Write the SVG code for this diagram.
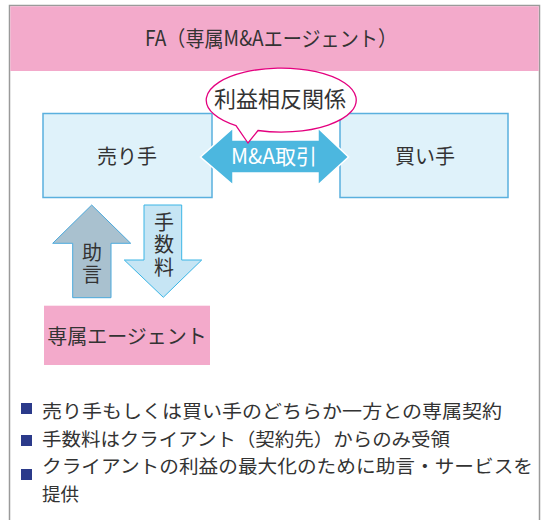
<svg xmlns="http://www.w3.org/2000/svg" width="544" height="520" viewBox="0 0 544 520">
<style>
text{font-family:"Noto Sans CJK JP","Noto Sans",sans-serif;fill:#333}
.box{fill:#dff2fa;stroke:#5ab0de;stroke-width:1.5}
.pink{fill:#f3aacb}
.t20{font-size:20px}
.vt{font-size:20px;writing-mode:vertical-rl;letter-spacing:2.5px}
.bul{fill:#2b3a8a}
.li{font-size:18.5px}
</style>
<rect x="0" y="0" width="544" height="520" fill="#fff"/>
<g id="frame">
<rect x="9.5" y="5.5" width="530" height="530" fill="#fff" stroke="#9a9a9a" stroke-width="1.5"/>
<rect x="10.3" y="6.3" width="528.4" height="64.7" class="pink"/>
<text x="145" y="46" textLength="252" lengthAdjust="spacingAndGlyphs" style="font-size:21px">FA（専属M&amp;Aエージェント）</text>
</g>
<g id="seller">
<rect x="43" y="113.5" width="169" height="84" class="box"/>
<text x="127" y="164" text-anchor="middle" class="t20">売り手</text>
</g>
<g id="buyer">
<rect x="340" y="113.5" width="168" height="84" class="box"/>
<text x="425" y="164" text-anchor="middle" class="t20">買い手</text>
</g>
<g id="connectors">
<polygon id="deal" points="200.5,157 233,128 233,140 318,140 318,128 348.5,157 318,185 318,173 233,173 233,185" fill="#4cb7df" stroke="#fff" stroke-width="1.5"/>
<text x="274" y="164" text-anchor="middle" style="font-size:21px;fill:#fff">M&amp;A取引</text>
<g id="advice">
<polygon points="91.7,205 130.7,243.3 111,243.3 111,297.7 72.7,297.7 72.7,243.3 52.7,243.3" fill="#a9c1cf" stroke="#4ba9dc" stroke-width="1"/>
<text x="92" y="242" class="vt">助言</text>
</g>
<g id="fee">
<polygon points="144,205 181.7,205 181.7,260 201.7,260 163.3,297.3 124.3,260 144,260" fill="#c6e5f4" stroke="#3ab5e5" stroke-width="1"/>
<text x="164" y="212" class="vt">手数料</text>
</g>
</g>
<g id="bubble">
<path d="M236,125.6 L248,143 L258,130.5 A75,32 0 1 0 236,125.6 Z" fill="#fff" stroke="#e4007f" stroke-width="1.3"/>
<text x="280" y="107" text-anchor="middle" style="font-size:22px">利益相反関係</text>
</g>
<g id="agent">
<rect x="44" y="305.7" width="166" height="59.3" class="pink"/>
<text x="127" y="344" text-anchor="middle" class="t20">専属エージェント</text>
</g>
<g id="notes">
<rect x="21" y="403" width="11" height="11" class="bul"/>
<text x="42" y="418" class="li" textLength="460" lengthAdjust="spacingAndGlyphs">売り手もしくは買い手のどちらか一方との専属契約</text>
<rect x="21" y="435" width="11" height="11" class="bul"/>
<text x="42" y="446" class="li" textLength="408" lengthAdjust="spacingAndGlyphs">手数料はクライアント（契約先）からのみ受領</text>
<rect x="21" y="469" width="11" height="11" class="bul"/>
<text x="42" y="473" class="li" textLength="491" lengthAdjust="spacingAndGlyphs">クライアントの利益の最大化のために助言・サービスを</text>
<text x="42" y="501" class="li">提供</text>
</g>
</svg>
